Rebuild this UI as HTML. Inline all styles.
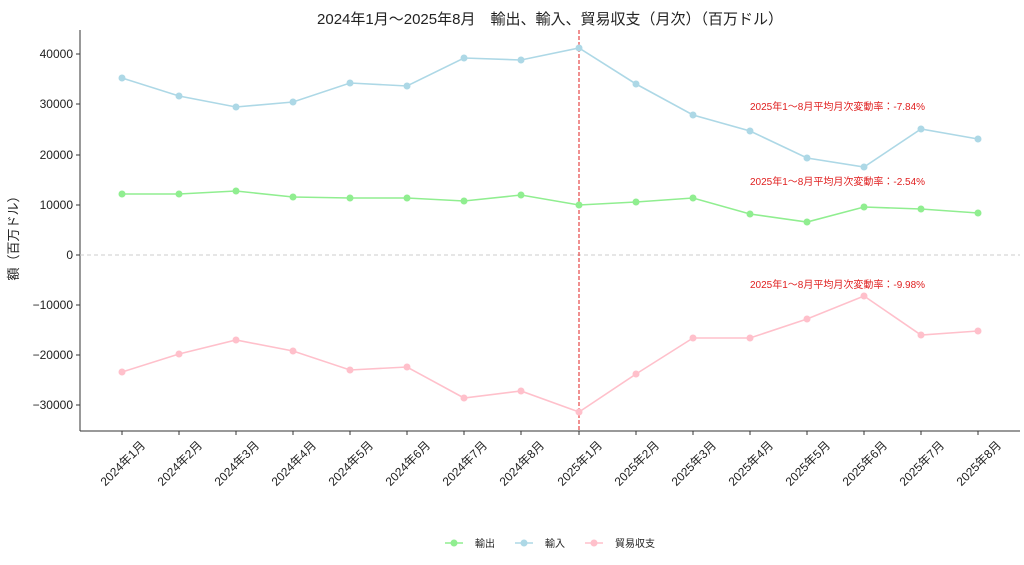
<!DOCTYPE html>
<html><head><meta charset="utf-8"><style>
body{margin:0;background:#fff}
text{font-family:"Liberation Sans","Noto Sans CJK JP",sans-serif}
</style></head><body>
<svg width="1024" height="560" viewBox="0 0 1024 560" xmlns="http://www.w3.org/2000/svg">
<text x="550" y="24" font-size="15" text-anchor="middle" fill="#222">2024年1月～2025年8月　輸出、輸入、貿易収支（月次）（百万ドル）</text>
<line x1="80" y1="30" x2="80" y2="431" stroke="#333" stroke-width="1"/>
<line x1="80" y1="431" x2="1020" y2="431" stroke="#333" stroke-width="1"/>
<g font-size="12" fill="#222" text-anchor="end">
<line x1="76" y1="54" x2="80" y2="54" stroke="#333"/><text x="73" y="58">40000</text>
<line x1="76" y1="104" x2="80" y2="104" stroke="#333"/><text x="73" y="108">30000</text>
<line x1="76" y1="155" x2="80" y2="155" stroke="#333"/><text x="73" y="159">20000</text>
<line x1="76" y1="205" x2="80" y2="205" stroke="#333"/><text x="73" y="209">10000</text>
<line x1="76" y1="255" x2="80" y2="255" stroke="#333"/><text x="73" y="259">0</text>
<line x1="76" y1="305" x2="80" y2="305" stroke="#333"/><text x="73" y="309">−10000</text>
<line x1="76" y1="355" x2="80" y2="355" stroke="#333"/><text x="73" y="359">−20000</text>
<line x1="76" y1="405" x2="80" y2="405" stroke="#333"/><text x="73" y="409">−30000</text>
</g>
<text transform="translate(18,235) rotate(-90)" font-size="13" text-anchor="middle" fill="#222">額（百万ドル）</text>
<line x1="80" y1="255" x2="1020" y2="255" stroke="#ccc" stroke-dasharray="4,3"/>
<line x1="579" y1="30" x2="579" y2="431" stroke="#e02020" stroke-dasharray="4,2"/>
<g font-size="12" fill="#222" text-anchor="end">
<text transform="translate(146,446) rotate(-45)">2024年1月</text>
<text transform="translate(203,446) rotate(-45)">2024年2月</text>
<text transform="translate(260,446) rotate(-45)">2024年3月</text>
<text transform="translate(317,446) rotate(-45)">2024年4月</text>
<text transform="translate(374,446) rotate(-45)">2024年5月</text>
<text transform="translate(431,446) rotate(-45)">2024年6月</text>
<text transform="translate(488,446) rotate(-45)">2024年7月</text>
<text transform="translate(545,446) rotate(-45)">2024年8月</text>
<text transform="translate(603,446) rotate(-45)">2025年1月</text>
<text transform="translate(660,446) rotate(-45)">2025年2月</text>
<text transform="translate(717,446) rotate(-45)">2025年3月</text>
<text transform="translate(774,446) rotate(-45)">2025年4月</text>
<text transform="translate(831,446) rotate(-45)">2025年5月</text>
<text transform="translate(888,446) rotate(-45)">2025年6月</text>
<text transform="translate(945,446) rotate(-45)">2025年7月</text>
<text transform="translate(1002,446) rotate(-45)">2025年8月</text>
</g>
<g>
<line x1="122" y1="431" x2="122" y2="435" stroke="#333"/><line x1="179" y1="431" x2="179" y2="435" stroke="#333"/><line x1="236" y1="431" x2="236" y2="435" stroke="#333"/><line x1="293" y1="431" x2="293" y2="435" stroke="#333"/><line x1="350" y1="431" x2="350" y2="435" stroke="#333"/><line x1="407" y1="431" x2="407" y2="435" stroke="#333"/><line x1="464" y1="431" x2="464" y2="435" stroke="#333"/><line x1="521" y1="431" x2="521" y2="435" stroke="#333"/><line x1="579" y1="431" x2="579" y2="435" stroke="#333"/><line x1="636" y1="431" x2="636" y2="435" stroke="#333"/><line x1="693" y1="431" x2="693" y2="435" stroke="#333"/><line x1="750" y1="431" x2="750" y2="435" stroke="#333"/><line x1="807" y1="431" x2="807" y2="435" stroke="#333"/><line x1="864" y1="431" x2="864" y2="435" stroke="#333"/><line x1="921" y1="431" x2="921" y2="435" stroke="#333"/><line x1="978" y1="431" x2="978" y2="435" stroke="#333"/>
</g>
<g fill="none" stroke-width="1.6">
<polyline stroke="#add8e6" points="122,78 179,96 236,107 293,102 350,83 407,86 464,58 521,60 579,48 636,84 693,115 750,131 807,158 864,167 921,129 978,139"/>
<polyline stroke="#90ee90" points="122,194 179,194 236,191 293,197 350,198 407,198 464,201 521,195 579,205 636,202 693,198 750,214 807,222 864,207 921,209 978,213"/>
<polyline stroke="#ffc0cb" points="122,372 179,354 236,340 293,351 350,370 407,367 464,398 521,391 579,412 636,374 693,338 750,338 807,319 864,296 921,335 978,331"/>
</g>
<g fill="#add8e6"><circle cx="122" cy="78" r="3.5"/><circle cx="179" cy="96" r="3.5"/><circle cx="236" cy="107" r="3.5"/><circle cx="293" cy="102" r="3.5"/><circle cx="350" cy="83" r="3.5"/><circle cx="407" cy="86" r="3.5"/><circle cx="464" cy="58" r="3.5"/><circle cx="521" cy="60" r="3.5"/><circle cx="579" cy="48" r="3.5"/><circle cx="636" cy="84" r="3.5"/><circle cx="693" cy="115" r="3.5"/><circle cx="750" cy="131" r="3.5"/><circle cx="807" cy="158" r="3.5"/><circle cx="864" cy="167" r="3.5"/><circle cx="921" cy="129" r="3.5"/><circle cx="978" cy="139" r="3.5"/></g>
<g fill="#90ee90"><circle cx="122" cy="194" r="3.5"/><circle cx="179" cy="194" r="3.5"/><circle cx="236" cy="191" r="3.5"/><circle cx="293" cy="197" r="3.5"/><circle cx="350" cy="198" r="3.5"/><circle cx="407" cy="198" r="3.5"/><circle cx="464" cy="201" r="3.5"/><circle cx="521" cy="195" r="3.5"/><circle cx="579" cy="205" r="3.5"/><circle cx="636" cy="202" r="3.5"/><circle cx="693" cy="198" r="3.5"/><circle cx="750" cy="214" r="3.5"/><circle cx="807" cy="222" r="3.5"/><circle cx="864" cy="207" r="3.5"/><circle cx="921" cy="209" r="3.5"/><circle cx="978" cy="213" r="3.5"/></g>
<g fill="#ffc0cb"><circle cx="122" cy="372" r="3.5"/><circle cx="179" cy="354" r="3.5"/><circle cx="236" cy="340" r="3.5"/><circle cx="293" cy="351" r="3.5"/><circle cx="350" cy="370" r="3.5"/><circle cx="407" cy="367" r="3.5"/><circle cx="464" cy="398" r="3.5"/><circle cx="521" cy="391" r="3.5"/><circle cx="579" cy="412" r="3.5"/><circle cx="636" cy="374" r="3.5"/><circle cx="693" cy="338" r="3.5"/><circle cx="750" cy="338" r="3.5"/><circle cx="807" cy="319" r="3.5"/><circle cx="864" cy="296" r="3.5"/><circle cx="921" cy="335" r="3.5"/><circle cx="978" cy="331" r="3.5"/></g>
<g font-size="10" fill="#e02020">
<text x="750" y="110">2025年1～8月平均月次変動率：-7.84%</text>
<text x="750" y="185">2025年1～8月平均月次変動率：-2.54%</text>
<text x="750" y="288">2025年1～8月平均月次変動率：-9.98%</text>
</g>
<g font-size="10" fill="#222">
<line x1="445" y1="543" x2="463" y2="543" stroke="#90ee90" stroke-width="1.6"/><circle cx="454" cy="543" r="3.5" fill="#90ee90"/><text x="475" y="547">輸出</text>
<line x1="515" y1="543" x2="533" y2="543" stroke="#add8e6" stroke-width="1.6"/><circle cx="524" cy="543" r="3.5" fill="#add8e6"/><text x="545" y="547">輸入</text>
<line x1="585" y1="543" x2="603" y2="543" stroke="#ffc0cb" stroke-width="1.6"/><circle cx="594" cy="543" r="3.5" fill="#ffc0cb"/><text x="615" y="547">貿易収支</text>
</g>
</svg>
</body></html>
